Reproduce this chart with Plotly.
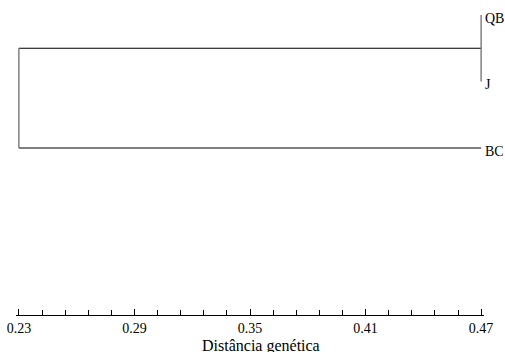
import plotly.graph_objects as go

# Data
leaves = ["QB", "J", "BC"]
leaf_pos = [0, 1, 2]
leaf_dist = [0.47, 0.47, 0.47]
merge_QB_J = 0.47
merge_all = 0.23
tick_vals = [0.23, 0.29, 0.35, 0.41, 0.47]
tick_text = ["0.23", "0.29", "0.35", "0.41", "0.47"]
axis_title = "Distância genética"

FONT = "Liberation Serif, Times New Roman, serif"
mid_qbj = (leaf_pos[0] + leaf_pos[1]) / 2

fig = go.Figure()
# horizontal segments (black)
hx = [merge_all, merge_QB_J, None, merge_all, leaf_dist[2]]
hy = [mid_qbj, mid_qbj, None, leaf_pos[2], leaf_pos[2]]
fig.add_trace(go.Scatter(x=hx, y=hy, mode="lines", line=dict(color="#000000", width=1),
                         hoverinfo="skip", showlegend=False, cliponaxis=False))
# vertical segments (grey)
vx = [merge_QB_J, merge_QB_J, None, merge_all, merge_all]
vy = [leaf_pos[0], leaf_pos[1], None, mid_qbj, leaf_pos[2]]
fig.add_trace(go.Scatter(x=vx, y=vy, mode="lines", line=dict(color="#6e6e6e", width=1.3),
                         hoverinfo="skip", showlegend=False, cliponaxis=False))

for name, d, p in zip(leaves, leaf_dist, leaf_pos):
    fig.add_annotation(x=d, y=p, text=name, showarrow=False, xanchor="left", yanchor="middle",
                       xshift=2, yshift=-3, font=dict(family=FONT, size=14, color="#000"))

# axis title placed as a paper-anchored annotation below the tick labels
fig.add_annotation(x=0.5, y=0, xref="paper", yref="paper", text=axis_title, showarrow=False,
                   xanchor="center", yanchor="middle", xshift=11, yshift=-31,
                   font=dict(family=FONT, size=16, color="#000"))

pad = 0.0015
fig.update_layout(
    width=505, height=352,
    margin=dict(l=16, r=21, t=0, b=37, autoexpand=False),
    paper_bgcolor="white", plot_bgcolor="white",
    font=dict(family=FONT, size=13, color="#000"),
    xaxis=dict(range=[0.23 - pad, 0.47 + pad], tickvals=tick_vals, ticktext=tick_text,
               automargin=False,
               ticks="inside", ticklen=6, tickwidth=1, tickcolor="#000",
               showline=True, linecolor="#000", linewidth=1,
               showgrid=False, zeroline=False,
               tickfont=dict(family=FONT, size=14, color="#000"),
               ticklabelstandoff=0,
               minor=dict(tickvals=[0.23 + 0.012 * i for i in range(21)], ticks="inside",
                          ticklen=5, tickcolor="#000", tickwidth=1, showgrid=False)),
    yaxis=dict(range=[4.511, -0.2256], visible=False, showgrid=False, zeroline=False,
               automargin=False),
)

fig.write_html("out.html", config={"displayModeBar": False},
               post_script="document.body.style.margin='0';document.body.style.overflow='hidden';")
